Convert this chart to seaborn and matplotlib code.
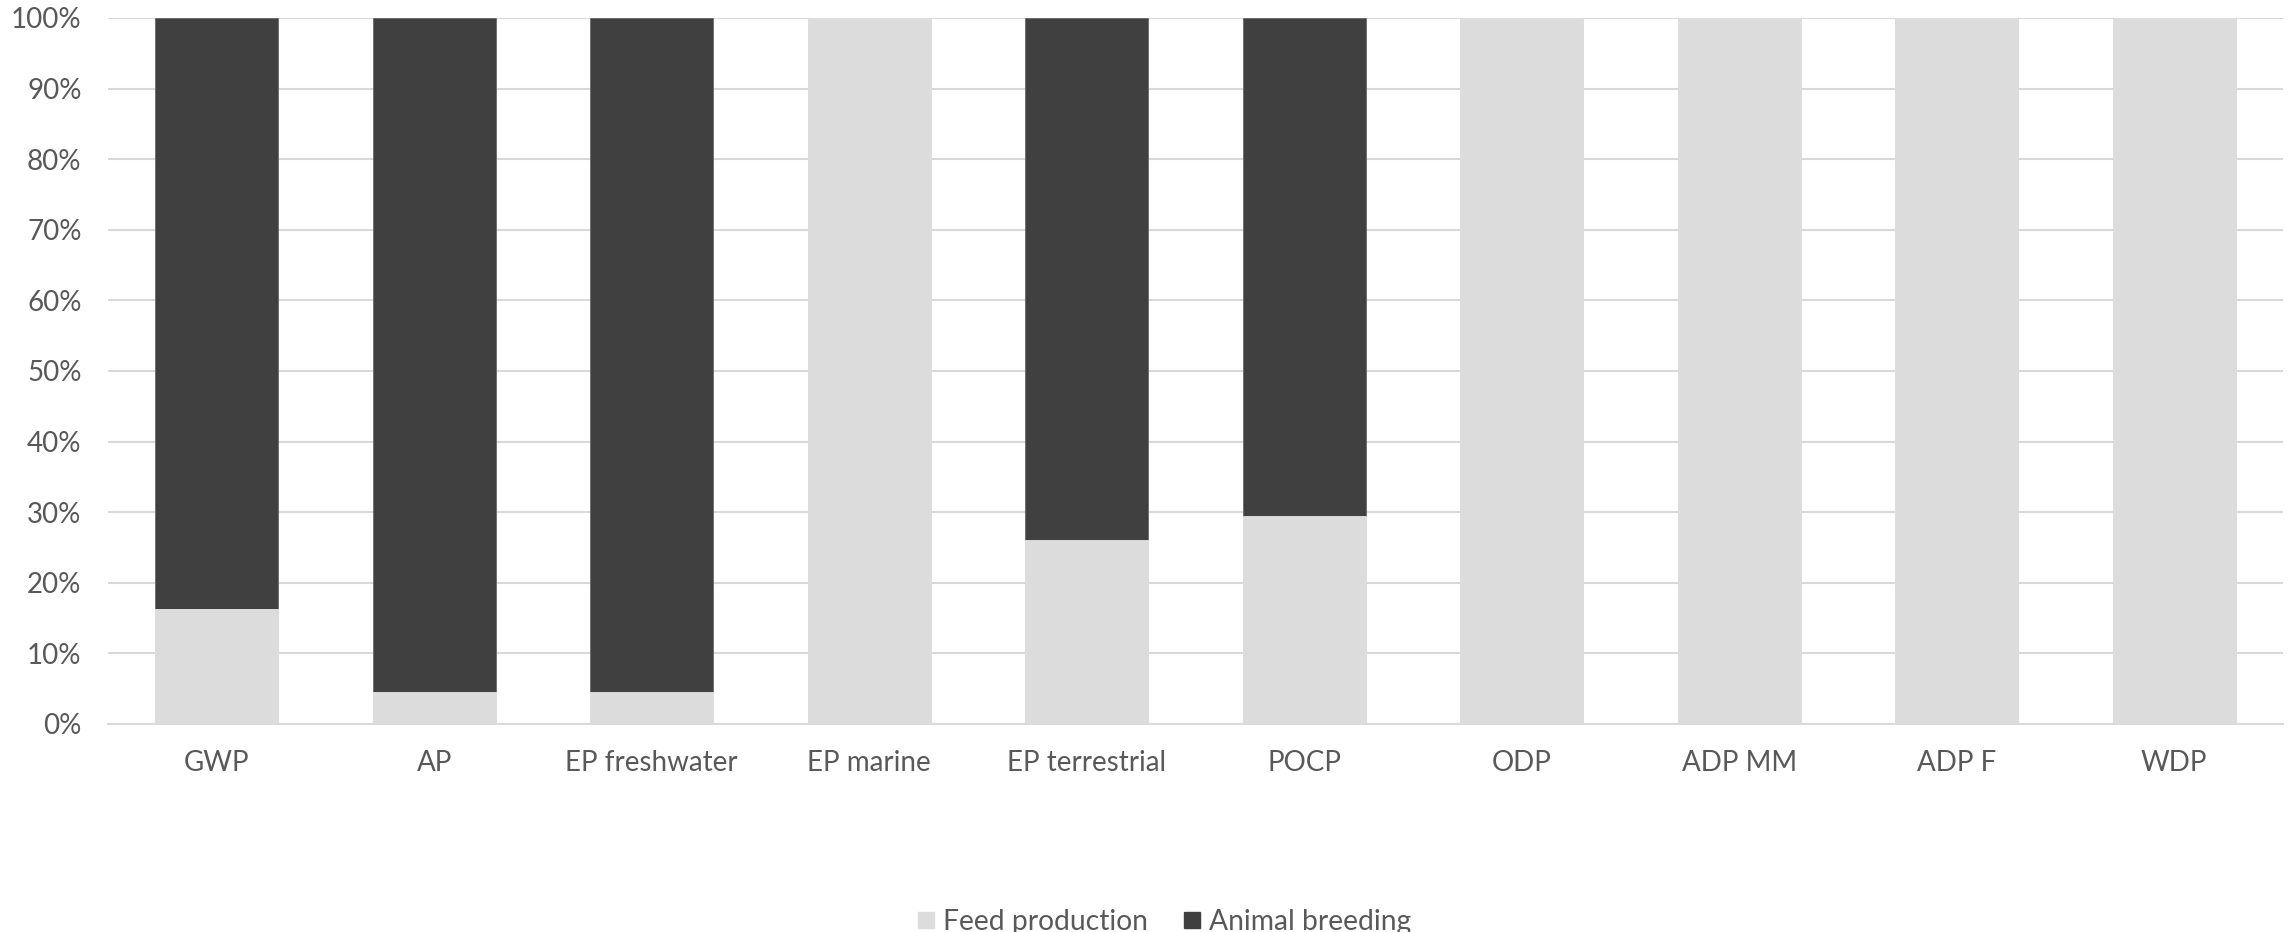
import matplotlib
matplotlib.use("Agg")
import matplotlib.pyplot as plt
from matplotlib.lines import Line2D
from matplotlib.ticker import FuncFormatter, MultipleLocator
import seaborn as sns
import pandas as pd

# Share of each impact category (%) by life-cycle stage
categories = ["GWP", "AP", "EP freshwater", "EP marine", "EP terrestrial",
              "POCP", "ODP", "ADP MM", "ADP F", "WDP"]
feed_production = [16.3, 4.6, 4.5, 100.0, 26.0, 29.4, 100.0, 100.0, 100.0, 100.0]
animal_breeding = [83.7, 95.4, 95.5, 0.0, 74.0, 70.6, 0.0, 0.0, 0.0, 0.0]

series_names = ["Feed production", "Animal breeding"]
series_colors = ["#dcdcdc", "#404040"]
text_color = "#595959"
grid_color = "#d9d9d9"

df = pd.DataFrame({
    "category": categories,
    "feed": feed_production,
    "animal": animal_breeding,
})
df["total"] = df["feed"] + df["animal"]

sns.set_theme(style="white")
plt.rcParams["font.family"] = ["Lato", "DejaVu Sans"]

fig = plt.figure(figsize=(22.92, 9.32), dpi=100)
ax = fig.add_axes([0.0471, 0.2232, 0.9490, 0.7575])

# stacked bars: full stack in the dark colour, lower segment over it
sns.barplot(data=df, x="category", y="total", color=series_colors[1],
            width=0.566, saturation=1, ax=ax, zorder=3,
            edgecolor="#6a6a6a", linewidth=0.6)
sns.barplot(data=df, x="category", y="feed", color=series_colors[0],
            width=0.566, saturation=1, ax=ax, zorder=4,
            edgecolor="#e8e8e8", linewidth=0.6)

ax.set_ylim(0, 100)
ax.set_xlim(-0.5, len(categories) - 0.5)
ax.yaxis.set_major_locator(MultipleLocator(10))
ax.yaxis.set_major_formatter(FuncFormatter(lambda v, _: f"{v:.0f}%"))
ax.grid(axis="y", color=grid_color, linewidth=1.5, zorder=0)
ax.set_axisbelow(True)
for side in ["top", "right", "left"]:
    ax.spines[side].set_visible(False)
ax.spines["bottom"].set_color(grid_color)
ax.spines["bottom"].set_linewidth(1.5)
ax.set_xlabel("")
ax.set_ylabel("")
ax.tick_params(axis="both", length=0, labelsize=20, colors=text_color)
ax.tick_params(axis="x", pad=19)
ax.tick_params(axis="y", pad=19)

handles = [Line2D([], [], marker="s", linestyle="none", markersize=12,
                  markerfacecolor=c, markeredgecolor=c) for c in series_colors]
leg = fig.legend(handles, series_names, loc="lower center",
                 bbox_to_anchor=(0.507, -0.03), ncol=2, frameon=False,
                 fontsize=20.3, handletextpad=0.15, columnspacing=1.1,
                 handlelength=0.9)
for t in leg.get_texts():
    t.set_color(text_color)

fig.savefig("out.png", dpi=100)
